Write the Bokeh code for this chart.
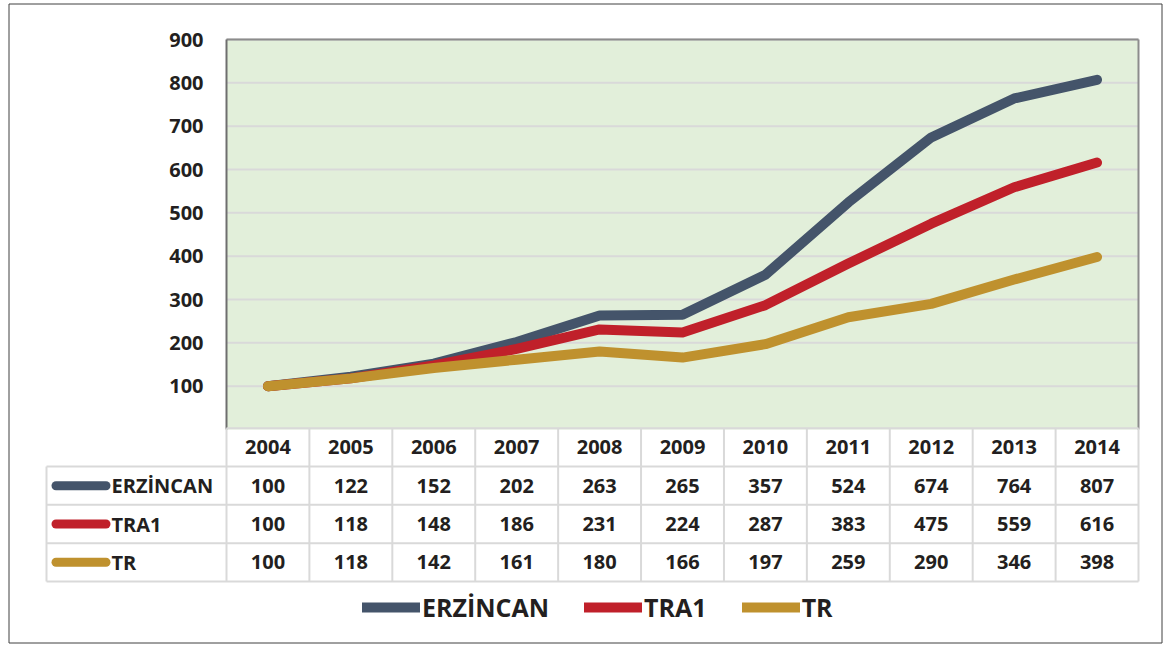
from bokeh.plotting import figure
from bokeh.models import Range1d, Legend, LegendItem
from bokeh.core.properties import value
from bokeh.embed import file_html
from bokeh.resources import INLINE

# ---- data ----
years = ["2004", "2005", "2006", "2007", "2008", "2009", "2010", "2011", "2012", "2013", "2014"]
series_names = ["ERZİNCAN", "TRA1", "TR"]
erzincan = [100, 122, 152, 202, 263, 265, 357, 524, 674, 764, 807]
tra1 = [100, 118, 148, 186, 231, 224, 287, 383, 475, 559, 616]
tr = [100, 118, 142, 161, 180, 166, 197, 259, 290, 346, 398]
y_ticks = [100, 200, 300, 400, 500, 600, 700, 800, 900]

colors = ["#44546A", "#C0202A", "#BF912E"]
series = [erzincan, tra1, tr]

FONT = "Open Sans"
TXT = "#231F20"

W, H = 1163, 646
# pixel geometry helpers (page coords -> data coords)
col_w = (1138 - 226) / 11.0
def px_x(p):
    return (p - 226) / col_w - 0.5
vpx = (429 - 39) / 900.0
def px_y(p):
    return (429 - p) / vpx
row_h = 38.3
row0 = 446.9

p = figure(width=W, height=H, output_backend="svg", toolbar_location=None,
           x_range=Range1d(px_x(0), px_x(W)),
           y_range=Range1d(px_y(H), px_y(0)),
           min_border=0, min_border_left=0, min_border_right=0,
           min_border_top=0, min_border_bottom=0)
p.extra_y_ranges = {"tbl": Range1d((H - row0) / row_h, (0 - row0) / row_h)}
p.xaxis.visible = False
p.yaxis.visible = False
p.xgrid.visible = False
p.ygrid.visible = False
p.outline_line_color = None
p.background_fill_color = "white"
p.border_fill_color = "white"

n = len(years)
xs = list(range(n))

# outer chart border
p.quad(left=px_x(8.5), right=px_x(1161.5), bottom=px_y(642.5), top=px_y(3.5),
       fill_color=None, line_color="#404040", line_width=1)

# plot area
p.quad(left=-0.5, right=n - 0.5, bottom=0, top=900, fill_color="#E2EFDA", line_color=None)
# grid lines
p.segment(x0=[-0.5] * len(y_ticks), x1=[n - 0.5] * len(y_ticks), y0=y_ticks, y1=y_ticks,
          line_color="#D9D9D9", line_width=2)
# plot borders
p.segment(x0=[-0.5, n - 0.5], x1=[n - 0.5, n - 0.5], y0=[900, 900], y1=[900, 0],
          line_color="#8C8C8C", line_width=2)
p.segment(x0=[-0.5], x1=[-0.5], y0=[900], y1=[0], line_color="#6E6E6E", line_width=2)

# y tick labels
p.text(x=[px_x(203)] * len(y_ticks), y=y_ticks, text=[str(t) for t in y_ticks],
       text_align="right", text_baseline="middle", text_font=value(FONT),
       text_font_style="bold", text_font_size="20px", text_color=TXT)

# lines
renderers = []
for name, vals, c in zip(series_names, series, colors):
    r = p.line(xs, vals, line_color=c, line_width=10, line_cap="round", line_join="round")
    renderers.append(r)

# ---- data table ----
grid_c = "#D9D9D9"
left_edge = px_x(46)
hy = [0.5, 1.5, 2.5, 3.5]
p.segment(x0=[left_edge] * 4, x1=[n - 0.5] * 4, y0=hy, y1=hy, line_color=grid_c,
          line_width=2, y_range_name="tbl")
p.segment(x0=[-0.5], x1=[n - 0.5], y0=[-0.5], y1=[-0.5], line_color=grid_c,
          line_width=2, y_range_name="tbl")
vx = [i - 0.5 for i in range(n + 1)]
p.segment(x0=vx, x1=vx, y0=[-0.5] * len(vx), y1=[3.5] * len(vx), line_color=grid_c,
          line_width=2, y_range_name="tbl")
p.segment(x0=[left_edge], x1=[left_edge], y0=[0.5], y1=[3.5], line_color=grid_c,
          line_width=2, y_range_name="tbl")

p.text(x=xs, y=[0] * n, text=years, text_align="center", text_baseline="middle",
       text_font=value(FONT), text_font_style="bold", text_font_size="20px",
       text_color=TXT, y_range_name="tbl")
for k, (name, vals, c) in enumerate(zip(series_names, series, colors), start=1):
    p.segment(x0=[px_x(55.5)], x1=[px_x(105.5)], y0=[k], y1=[k], line_color=c,
              line_width=9, line_cap="round", y_range_name="tbl")
    p.text(x=[px_x(111)], y=[k], text=[name], text_align="left", text_baseline="middle",
           text_font=value(FONT), text_font_style="bold", text_font_size="20px",
           text_color=TXT, y_range_name="tbl")
    p.text(x=xs, y=[k] * n, text=[str(v) for v in vals], text_align="center",
           text_baseline="middle", text_font=value(FONT), text_font_style="bold",
           text_font_size="20px", text_color=TXT, y_range_name="tbl")

# ---- legend ----
legend = Legend(items=[LegendItem(label=nm, renderers=[r]) for nm, r in zip(series_names, renderers)],
                orientation="horizontal", location=(362, 22),
                glyph_width=58, glyph_height=30, label_height=30, label_standoff=2,
                spacing=35, padding=0, margin=0,
                label_text_font=FONT, label_text_font_style="bold",
                label_text_font_size="25px", label_text_color=TXT,
                border_line_color=None, background_fill_alpha=0)
p.add_layout(legend, "center")

open("out.html", "w").write(file_html(p, INLINE))
